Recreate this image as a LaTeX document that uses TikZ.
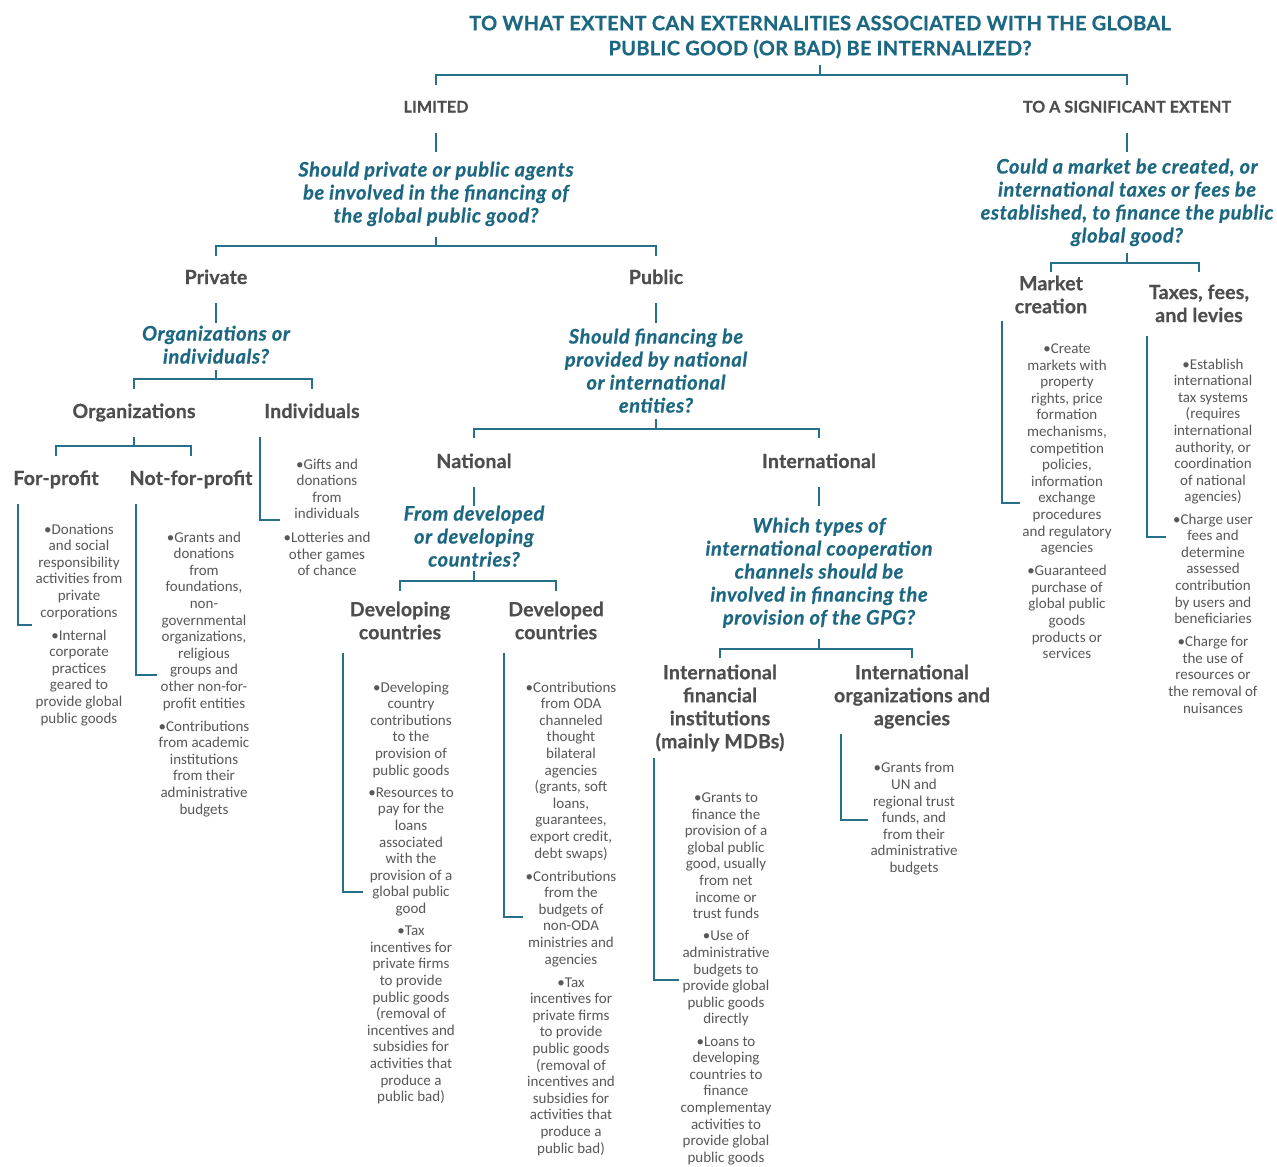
\documentclass[tikz,border=0pt]{standalone}
\usepackage{fontspec}
\newfontfamily\latot{Lato}[FakeBold=0.6, LetterSpace=1.5]
\newfontfamily\latoh{Lato}[FakeBold=0.6, LetterSpace=1]
\newfontfamily\latoq{Lato}[FakeBold=0.5, LetterSpace=3]
\newfontfamily\carl{Carlito}
\definecolor{teal}{RGB}{28,104,130}
\definecolor{lineteal}{RGB}{38,112,140}
\definecolor{headgray}{RGB}{78,78,78}
\definecolor{bodygray}{RGB}{88,88,88}
\tikzset{
  conn/.style={draw=lineteal, line width=2pt},
  ttl/.style={font={\latot\bfseries\fontsize{20}{25}\selectfont}, text=teal, align=center, inner sep=0pt, anchor=north},
  lvl/.style={font={\latoh\bfseries\fontsize{16}{18}\selectfont}, text=headgray, inner sep=0pt, anchor=base},
  head/.style={font={\latoh\bfseries\fontsize{19.5}{23}\selectfont}, text=headgray, inner sep=0pt, anchor=base},
  mhead/.style={font={\latoh\bfseries\fontsize{19.5}{23}\selectfont}, text=headgray, align=center, inner sep=0pt, anchor=north},
  quest/.style={font={\latoq\bfseries\itshape\fontsize{20}{23}\selectfont}, text=teal, align=center, inner sep=0pt, anchor=north},
  bodytxt/.style={font={\carl\fontsize{15}{16.6}\selectfont}, text=bodygray, align=center, inner sep=0pt, anchor=north},
}
\begin{document}
\begin{tikzpicture}[x=1pt,y=-1pt]
\useasboundingbox[fill=white] (0,0) rectangle (1277,1167);

% ---------- nodes ----------
\node[ttl] (title) at (820,15.5) {TO WHAT EXTENT CAN EXTERNALITIES ASSOCIATED WITH THE GLOBAL\\PUBLIC GOOD (OR BAD) BE INTERNALIZED?};
\node[lvl] (limited) at (436,112.5) {LIMITED};
\node[lvl] (signif) at (1127,112.5) {TO A SIGNIFICANT EXTENT};

\node[quest] (q1) at (436,161.5) {Should private or public agents\\be involved in the financing of\\the global public good?};
\node[quest] (q2) at (1127,158.5) {Could a market be created, or\\international taxes or fees be\\established, to finance the public\\global good?};

\node[head] (private) at (216,284) {Private};
\node[head] (public) at (656,284) {Public};

\node[quest] (qorg) at (216,325.5) {Organizations or\\individuals?};
\node[head] (orgs) at (134,418) {Organizations};
\node[head] (indiv) at (312,418) {Individuals};
\node[head] (forp) at (56,485) {For-profit};
\node[head] (nfp) at (191,485) {Not-for-profit};

\node[bodytxt] (indivtxt) at (327,458.5) {•Gifts and\\donations\\from\\individuals\\[7pt]•Lotteries and\\other games\\of chance};
\node[bodytxt] (forptxt) at (79,523.5) {•Donations\\and social\\responsibility\\activities from\\private\\corporations\\[6.4pt]•Internal\\corporate\\practices\\geared to\\provide global\\public goods};
\node[bodytxt] (nfptxt) at (204,531.5) {•Grants and\\donations\\from\\foundations,\\non-\\governmental\\organizations,\\religious\\groups and\\other non-for-\\profit entities\\[6.4pt]•Contributions\\from academic\\institutions\\from their\\administrative\\budgets};

\node[quest] (qpub) at (656,328.5) {Should financing be\\provided by national\\or international\\entities?};
\node[head] (national) at (474,468) {National};
\node[head] (intl) at (819,468) {International};

\node[quest] (qnat) at (474,505.5) {From developed\\or developing\\countries?};
\node[mhead] (developing) at (400,601.5) {Developing\\countries};
\node[mhead] (developed) at (556,601.5) {Developed\\countries};

\node[bodytxt] (devgtxt) at (411,681.5) {•Developing\\country\\contributions\\to the\\provision of\\public goods\\[5.6pt]•Resources to\\pay for the\\loans\\associated\\with the\\provision of a\\global public\\good\\[5.6pt]•Tax\\incentives for\\private firms\\to provide\\public goods\\(removal of\\incentives and\\subsidies for\\activities that\\produce a\\public bad)};
\node[bodytxt] (devdtxt) at (571,681.5) {•Contributions\\from ODA\\channeled\\thought\\bilateral\\agencies\\(grants, soft\\loans,\\guarantees,\\export credit,\\debt swaps)\\[6.4pt]•Contributions\\from the\\budgets of\\non-ODA\\ministries and\\agencies\\[6.4pt]•Tax\\incentives for\\private firms\\to provide\\public goods\\(removal of\\incentives and\\subsidies for\\activities that\\produce a\\public bad)};

\node[quest] (qint) at (819,517.5) {Which types of\\international cooperation\\channels should be\\involved in financing the\\provision of the GPG?};
\node[mhead] (ifi) at (720,664.5) {International\\financial\\institutions\\(mainly MDBs)};
\node[mhead] (ioa) at (912,664.5) {International\\organizations and\\agencies};

\node[bodytxt] (ifitxt) at (726,792.5) {•Grants to\\finance the\\provision of a\\global public\\good, usually\\from net\\income or\\trust funds\\[5.6pt]•Use of\\administrative\\budgets to\\provide global\\public goods\\directly\\[5.6pt]•Loans to\\developing\\countries to\\finance\\complementay\\activities to\\provide global\\public goods};
\node[bodytxt] (ioatxt) at (914,762.5) {•Grants from\\UN and\\regional trust\\funds, and\\from their\\administrative\\budgets};

\node[mhead] (market) at (1051,275.5) {Market\\creation};
\node[mhead] (taxes) at (1199,284.5) {Taxes, fees,\\and levies};

\node[bodytxt] (markettxt) at (1067,343.5) {•Create\\markets with\\property\\rights, price\\formation\\mechanisms,\\competition\\policies,\\information\\exchange\\procedures\\and regulatory\\agencies\\[6.4pt]•Guaranteed\\purchase of\\global public\\goods\\products or\\services};
\node[bodytxt] (taxestxt) at (1213,358.5) {•Establish\\international\\tax systems\\(requires\\international\\authority, or\\coordination\\of national\\agencies)\\[5.6pt]•Charge user\\fees and\\determine\\assessed\\contribution\\by users and\\beneficiaries\\[6.4pt]•Charge for\\the use of\\resources or\\the removal of\\nuisances};

% ---------- connector points ----------
\path (820,65) coordinate (tA) (820,75) coordinate (tJ) (436,85) coordinate (tL) (1127,85) coordinate (tR);
\path (436,133) coordinate (limA) (436,152) coordinate (limB);
\path (1127,133) coordinate (sigA) (1127,152) coordinate (sigB);
\path (436,237) coordinate (q1A) (436,246) coordinate (q1J) (216,256) coordinate (q1L) (656,256) coordinate (q1R);
\path (216,303) coordinate (prA) (216,323) coordinate (prB);
\path (656,303) coordinate (puA) (656,323) coordinate (puB);
\path (216,370) coordinate (qoA) (216,379) coordinate (qoJ) (134,389) coordinate (qoL) (312,389) coordinate (qoR);
\path (134,437) coordinate (orA) (134,446) coordinate (orJ) (56,456) coordinate (orL) (191,456) coordinate (orR);
\path (260,437) coordinate (inA) (260,520) coordinate (inB) (280,520) coordinate (inC);
\path (18,504) coordinate (fpA) (18,625) coordinate (fpB) (32,625) coordinate (fpC);
\path (136,504) coordinate (nfA) (136,675) coordinate (nfB) (157,675) coordinate (nfC);
\path (656,419) coordinate (qpA) (656,429) coordinate (qpJ) (474,438) coordinate (qpL) (819,438) coordinate (qpR);
\path (474,487) coordinate (naA) (474,506) coordinate (naB);
\path (819,487) coordinate (itA) (819,506) coordinate (itB);
\path (474,571) coordinate (qnA) (474,581) coordinate (qnJ) (400,591) coordinate (qnL) (556,591) coordinate (qnR);
\path (343,653) coordinate (dgA) (343,892) coordinate (dgB) (363,892) coordinate (dgC);
\path (504,653) coordinate (ddA) (504,917) coordinate (ddB) (523,917) coordinate (ddC);
\path (819,639) coordinate (qiA) (819,649) coordinate (qiJ) (720,658) coordinate (qiL) (912,658) coordinate (qiR);
\path (654,758) coordinate (ifA) (654,980) coordinate (ifB) (679,980) coordinate (ifC);
\path (841,734) coordinate (ioA) (841,820) coordinate (ioB) (868,820) coordinate (ioC);
\path (1127,253) coordinate (q2A) (1127,263) coordinate (q2J) (1051,272) coordinate (q2L) (1199,272) coordinate (q2R);
\path (1002,321) coordinate (mkA) (1002,503) coordinate (mkB) (1020,503) coordinate (mkC);
\path (1147,336) coordinate (txA) (1147,537) coordinate (txB) (1166,537) coordinate (txC);

% ---------- connectors ----------
\draw[conn] (tA) -- (tJ);  \draw[conn] (tL) |- (tJ) -| (tR);
\draw[conn] (limA) -- (limB);
\draw[conn] (sigA) -- (sigB);
\draw[conn] (q1A) -- (q1J); \draw[conn] (q1L) |- (q1J) -| (q1R);
\draw[conn] (prA) -- (prB);
\draw[conn] (puA) -- (puB);
\draw[conn] (qoA) -- (qoJ); \draw[conn] (qoL) |- (qoJ) -| (qoR);
\draw[conn] (orA) -- (orJ); \draw[conn] (orL) |- (orJ) -| (orR);
\draw[conn] (inA) -- (inB) -- (inC);
\draw[conn] (fpA) -- (fpB) -- (fpC);
\draw[conn] (nfA) -- (nfB) -- (nfC);
\draw[conn] (qpA) -- (qpJ); \draw[conn] (qpL) |- (qpJ) -| (qpR);
\draw[conn] (naA) -- (naB);
\draw[conn] (itA) -- (itB);
\draw[conn] (qnA) -- (qnJ); \draw[conn] (qnL) |- (qnJ) -| (qnR);
\draw[conn] (dgA) -- (dgB) -- (dgC);
\draw[conn] (ddA) -- (ddB) -- (ddC);
\draw[conn] (qiA) -- (qiJ); \draw[conn] (qiL) |- (qiJ) -| (qiR);
\draw[conn] (ifA) -- (ifB) -- (ifC);
\draw[conn] (ioA) -- (ioB) -- (ioC);
\draw[conn] (q2A) -- (q2J); \draw[conn] (q2L) |- (q2J) -| (q2R);
\draw[conn] (mkA) -- (mkB) -- (mkC);
\draw[conn] (txA) -- (txB) -- (txC);
\end{tikzpicture}
\end{document}
